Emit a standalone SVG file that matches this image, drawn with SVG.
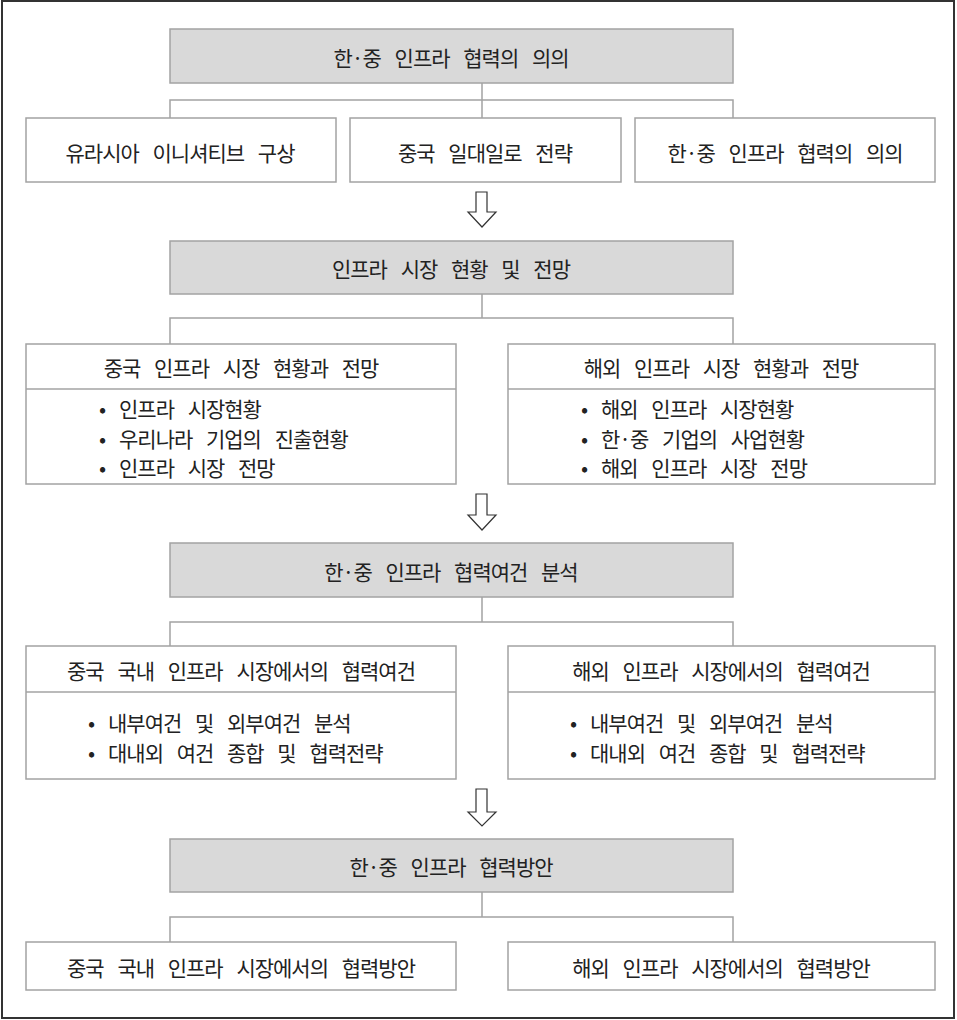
<svg xmlns="http://www.w3.org/2000/svg" width="957" height="1020" viewBox="0 0 957 1020">
<style>
text{font-family:"Noto Sans CJK KR","Noto Sans",sans-serif;font-size:21px;fill:#222;letter-spacing:-1px;word-spacing:10px;dominant-baseline:central}
.c{text-anchor:middle}
.hd{fill:#d9d9d9;stroke:#a3a3a3;stroke-width:1.5}
.bx{fill:#fff;stroke:#a3a3a3;stroke-width:1.5}
.dv{stroke:#a3a3a3;stroke-width:1.5;fill:none}
.cn{stroke:#a3a3a3;stroke-width:1.5;fill:none}
.ar{fill:#fff;stroke:#333;stroke-width:1.2;stroke-linejoin:miter}
</style>
<rect x="0" y="0" width="957" height="1020" fill="#fff"/>
<rect x="2" y="1" width="952" height="1017" fill="none" stroke="#333" stroke-width="2"/>

<g id="connectors">
<path class="cn" d="M482,83V118M170,118V100H733V118"/>
<path class="cn" d="M482,294V318M170,344V318H733V344"/>
<path class="cn" d="M482,597V622M170,646V622H733V646"/>
<path class="cn" d="M482,892V917M170,942V917H733V942"/>
<polygon class="ar" points="476,192 487,192 487,212 496,212 482,227 468,212 476,212"/>
<polygon class="ar" points="476,494 487,494 487,515 496,515 482,530 468,515 476,515"/>
<polygon class="ar" points="476,789 487,789 487,812 496,812 482,826 468,812 476,812"/>
</g>

<g id="h1"><rect class="hd" x="170" y="29" width="563" height="54"/><text class="c" x="451" y="57">한·중 인프라 협력의 의의</text></g>
<g id="n1a"><rect class="bx" x="26" y="118" width="310" height="64"/><text class="c" x="180" y="152">유라시아 이니셔티브 구상</text></g>
<g id="n1b"><rect class="bx" x="350" y="118" width="271" height="64"/><text class="c" x="485" y="152">중국 일대일로 전략</text></g>
<g id="n1c"><rect class="bx" x="635" y="118" width="300" height="64"/><text class="c" x="785" y="152">한·중 인프라 협력의 의의</text></g>

<g id="h2"><rect class="hd" x="170" y="241" width="563" height="53"/><text class="c" x="451" y="268">인프라 시장 현황 및 전망</text></g>
<g id="n2a"><rect class="bx" x="26" y="344" width="430" height="140"/><line class="dv" x1="26" y1="389" x2="456" y2="389"/>
<text class="c" x="241" y="367">중국 인프라 시장 현황과 전망</text>
<text y="408"><tspan x="99">•</tspan><tspan x="119">인프라 시장현황</tspan></text>
<text y="438"><tspan x="99">•</tspan><tspan x="119">우리나라 기업의 진출현황</tspan></text>
<text y="467"><tspan x="99">•</tspan><tspan x="119">인프라 시장 전망</tspan></text></g>
<g id="n2b"><rect class="bx" x="508" y="344" width="427" height="140"/><line class="dv" x1="508" y1="389" x2="935" y2="389"/>
<text class="c" x="721" y="367">해외 인프라 시장 현황과 전망</text>
<text y="408"><tspan x="581">•</tspan><tspan x="601">해외 인프라 시장현황</tspan></text>
<text y="438"><tspan x="581">•</tspan><tspan x="601">한·중 기업의 사업현황</tspan></text>
<text y="467"><tspan x="581">•</tspan><tspan x="601">해외 인프라 시장 전망</tspan></text></g>

<g id="h3"><rect class="hd" x="170" y="543" width="563" height="54"/><text class="c" x="451" y="571">한·중 인프라 협력여건 분석</text></g>
<g id="n3a"><rect class="bx" x="26" y="646" width="430" height="133"/><line class="dv" x1="26" y1="692" x2="456" y2="692"/>
<text class="c" x="241" y="670">중국 국내 인프라 시장에서의 협력여건</text>
<text y="722"><tspan x="88">•</tspan><tspan x="108">내부여건 및 외부여건 분석</tspan></text>
<text y="752"><tspan x="88">•</tspan><tspan x="108">대내외 여건 종합 및 협력전략</tspan></text></g>
<g id="n3b"><rect class="bx" x="508" y="646" width="427" height="133"/><line class="dv" x1="508" y1="692" x2="935" y2="692"/>
<text class="c" x="721" y="670">해외 인프라 시장에서의 협력여건</text>
<text y="722"><tspan x="570">•</tspan><tspan x="590">내부여건 및 외부여건 분석</tspan></text>
<text y="752"><tspan x="570">•</tspan><tspan x="590">대내외 여건 종합 및 협력전략</tspan></text></g>

<g id="h4"><rect class="hd" x="170" y="839" width="563" height="53"/><text class="c" x="451" y="866">한·중 인프라 협력방안</text></g>
<g id="n4a"><rect class="bx" x="26" y="942" width="430" height="48"/><text class="c" x="241" y="967">중국 국내 인프라 시장에서의 협력방안</text></g>
<g id="n4b"><rect class="bx" x="508" y="942" width="427" height="48"/><text class="c" x="721" y="967">해외 인프라 시장에서의 협력방안</text></g>
</svg>
